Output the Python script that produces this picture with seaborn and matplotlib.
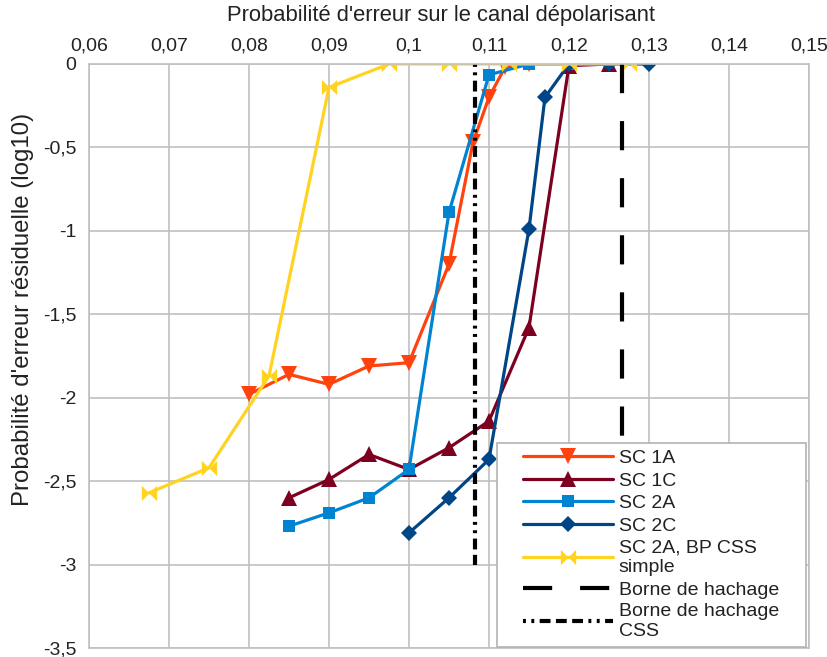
import numpy as np
import pandas as pd
import seaborn as sns
import matplotlib
matplotlib.use("Agg")
import matplotlib.pyplot as plt
from matplotlib.path import Path
from matplotlib.lines import Line2D
from matplotlib.legend_handler import HandlerLine2D
from matplotlib.ticker import FuncFormatter

# ---- data ----
sc1a_x = [0.08, 0.085, 0.09, 0.095, 0.10, 0.105, 0.108, 0.11, 0.112, 0.115]
sc1a_y = [-1.98, -1.86, -1.92, -1.81, -1.79, -1.20, -0.47, -0.20, -0.02, 0.0]

sc1c_x = [0.085, 0.09, 0.095, 0.10, 0.105, 0.11, 0.115, 0.12, 0.125]
sc1c_y = [-2.60, -2.49, -2.34, -2.43, -2.30, -2.14, -1.58, -0.01, 0.0]

sc2a_x = [0.085, 0.09, 0.095, 0.10, 0.105, 0.11, 0.115, 0.12]
sc2a_y = [-2.77, -2.69, -2.60, -2.43, -0.89, -0.065, 0.0, 0.0]

sc2c_x = [0.10, 0.105, 0.11, 0.115, 0.117, 0.12, 0.125, 0.13]
sc2c_y = [-2.81, -2.60, -2.37, -0.99, -0.20, 0.0, 0.0, 0.0]

css_x = [0.0675, 0.075, 0.0825, 0.09, 0.0975, 0.105, 0.1125, 0.12, 0.1275]
css_y = [-2.57, -2.42, -1.87, -0.14, 0.0, 0.0, 0.0, 0.0, 0.0]

borne_x = [0.1266, 0.1266]
borne_y = [0.0, -3.0]
borne_css_x = [0.1083, 0.1083]
borne_css_y = [0.0, -3.0]

labels = ["SC 1A", "SC 1C", "SC 2A", "SC 2C", "SC 2A, BP CSS\nsimple",
          "Borne de hachage", "Borne de hachage\nCSS"]
x_ticks = [0.06, 0.07, 0.08, 0.09, 0.10, 0.11, 0.12, 0.13, 0.14, 0.15]
y_ticks = [0, -0.5, -1, -1.5, -2, -2.5, -3, -3.5]

# ---- style ----
sns.set_theme(style="white")
plt.rcParams['font.family'] = ['Liberation Sans', 'DejaVu Sans']

# bowtie marker
bowtie = Path(
    [(-1, -1), (0, 0), (-1, 1), (-1, -1), (1, 1), (0, 0), (1, -1), (1, 1)],
    [Path.MOVETO, Path.LINETO, Path.LINETO, Path.CLOSEPOLY,
     Path.MOVETO, Path.LINETO, Path.LINETO, Path.CLOSEPOLY])

fig = plt.figure(figsize=(8.27, 6.57), dpi=100)
ax = fig.add_axes([0.1076, 0.0137, 0.8706, 0.8889])

series = [
    (sc1a_x, sc1a_y, labels[0], "#FF420E", "v", 11),
    (sc1c_x, sc1c_y, labels[1], "#7E0021", "^", 11),
    (sc2a_x, sc2a_y, labels[2], "#0084D1", "s", 9),
    (sc2c_x, sc2c_y, labels[3], "#004586", "D", 8.5),
    (css_x, css_y, labels[4], "#FFD320", bowtie, 11),
]
for xs, ys, lab, col, mk, ms in series:
    df = pd.DataFrame({"x": xs, "y": ys})
    sns.lineplot(data=df, x="x", y="y", ax=ax, color=col, marker=mk,
                 markersize=ms, markeredgewidth=0, linewidth=2.3,
                 estimator=None, sort=False, label=lab)

ax.plot(borne_x, borne_y, color="black", linewidth=3,
        dashes=(7, 6.7), label=labels[5])
ax.plot(borne_css_x, borne_css_y, color="black", linewidth=3,
        dashes=(0.7, 1.3, 0.7, 1.3, 2.6, 1.3, 2.6, 1.3, 2.6, 1.3),
        label=labels[6])

ax.set_xlim(0.06, 0.15)
ax.set_ylim(-3.5, 0)
ax.set_xticks(x_ticks)
ax.set_yticks(y_ticks)

fmt = FuncFormatter(lambda v, p: ("%g" % round(v, 4)).replace(".", ","))
ax.xaxis.set_major_formatter(fmt)
ax.yaxis.set_major_formatter(fmt)

ax.xaxis.tick_top()
ax.xaxis.set_label_position("top")
ax.set_xlabel("Probabilité d'erreur sur le canal dépolarisant",
              fontsize=15.8, color="#222222")
ax.set_ylabel("Probabilité d'erreur résiduelle (log10)",
              fontsize=17.3, color="#222222")
ax.xaxis.set_label_coords(0.489, 1.073)
ax.yaxis.set_label_coords(-0.077, 0.579)
ax.tick_params(axis="both", labelsize=14, colors="#222222")
ax.tick_params(axis="x", length=0, pad=7)
ax.tick_params(axis="y", length=6, width=1, color="#b3b3b3", pad=3)

ax.grid(True, color="#c0c0c0", linewidth=1.2)
ax.set_axisbelow(True)
for s in ax.spines.values():
    s.set_color("#c0c0c0")
    s.set_linewidth(1.2)

leg = ax.legend(loc="lower left", bbox_to_anchor=(0.567, 0.002, 0.429, 0.35),
                mode="expand", borderaxespad=0, fontsize=14, handlelength=5.6,
                labelspacing=0.25, handletextpad=0.3, borderpad=0.35,
                fancybox=False, framealpha=1, edgecolor="#b3b3b3",
                handler_map={Line2D: HandlerLine2D(xpad=1.0)})
leg.get_frame().set_linewidth(1.2)
for t in leg.get_texts():
    t.set_color("#222222")
    t.set_linespacing(1.2)

fig.savefig("out.png", dpi=100)
